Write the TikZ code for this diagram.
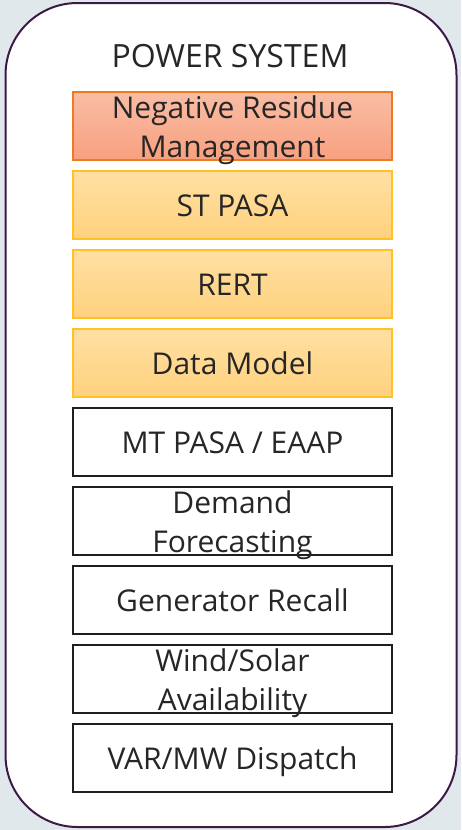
\documentclass[tikz,border=0pt]{standalone}
\usepackage{fontspec}
\setmainfont{Open Sans}
\definecolor{bgcol}{HTML}{E1E8EB}
\definecolor{framecol}{HTML}{3B1A48}
\definecolor{textcol}{HTML}{262626}
\definecolor{redline}{HTML}{F07A22}
\definecolor{redtop}{HTML}{F9BDA5}
\definecolor{redbot}{HTML}{F8A07F}
\definecolor{yelline}{HTML}{FFC125}
\definecolor{yeltop}{HTML}{FFE0A3}
\definecolor{yelbot}{HTML}{FFD17E}
\begin{document}
\begin{tikzpicture}[x=0.5pt, y=-0.5pt,
framenode/.style={rectangle, draw=framecol, line width=1pt, fill=white, rounded corners=36pt, minimum width=225.5pt, minimum height=412pt, inner sep=0pt},
titlenode/.style={text=textcol, font=\fontsize{16}{19}\selectfont, inner sep=0pt, anchor=base},
plainbox/.style={rectangle, draw=black!88, line width=1.2pt, fill=white, inner sep=0pt, minimum width=159.5pt, minimum height=34pt, text=textcol, font=\fontsize{15}{19.5}\selectfont, text height=11pt, text depth=0pt},
redbox/.style={plainbox, draw=redline, line width=1pt, top color=redtop, bottom color=redbot},
yelbox/.style={plainbox, draw=yelline, line width=1pt, top color=yeltop, bottom color=yelbot},
twoline/.style={align=center, text height=32.5pt, text depth=1.5pt},
]
\fill[bgcol] (0,0) rectangle (461,830);
%Nodes
\node[framenode]        (powersys)   at (231,415) {};
\node[titlenode]        (title)      at (230,67)  {POWER SYSTEM};
\node[redbox, twoline]  (negres)     at (232.5,126) {Negative Residue\\Management};
\node[yelbox]           (stpasa)     at (232.5,205) {ST PASA};
\node[yelbox]           (rert)       at (232.5,284) {RERT};
\node[yelbox]           (datamodel)  at (232.5,363) {Data Model};
\node[plainbox]         (mtpasa)     at (232.5,442) {MT PASA / EAAP};
\node[plainbox, twoline] (demand)    at (232.5,521) {Demand\\Forecasting};
\node[plainbox]         (genrecall)  at (232.5,600) {Generator Recall};
\node[plainbox, twoline] (windsolar) at (232.5,679) {Wind/Solar\\Availability};
\node[plainbox]         (vardisp)    at (232.5,758) {VAR/MW Dispatch};
\end{tikzpicture}
\end{document}
